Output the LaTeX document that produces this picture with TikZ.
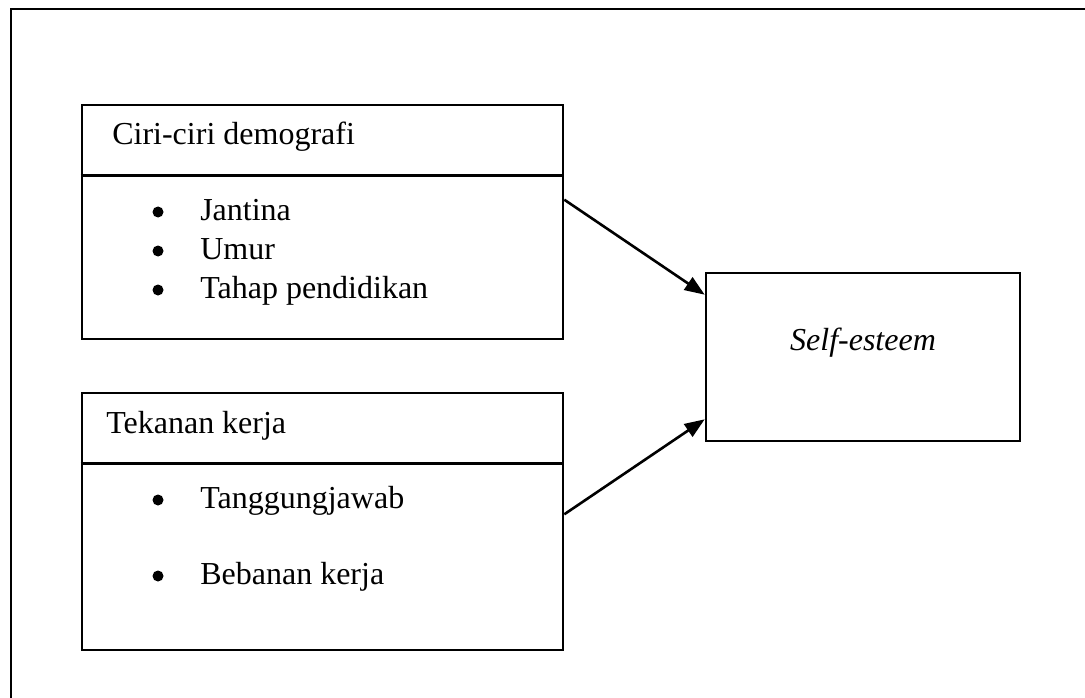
\documentclass[tikz,border=0pt]{standalone}
\usepackage{fontspec}
\setmainfont{Liberation Serif}
\usetikzlibrary{arrows.meta}

\begin{document}
\begin{tikzpicture}[x=1pt,y=-1pt,line width=2.6pt,>={Triangle[length=20pt,width=15pt]},
    font=\fontsize{32}{38}\selectfont,
    box/.style={draw,inner sep=0pt},
    txt/.style={anchor=base west,inner sep=0pt}]
            \useasboundingbox (0,0) rectangle (1085,698);
            % draw the outer frame
            \draw (11,698) -- (11,9) -- (1085,9);
            % draw the boxes
            \node[box,minimum width=481pt,minimum height=234pt] (demo) at (322.5,222) {};
            \node[box,minimum width=481pt,minimum height=257pt] (work) at (322.5,521.5) {};
            \node[box,minimum width=314pt,minimum height=168pt] (self) at (863,357) {};
            \draw ([yshift=-72pt]demo.north west) -- ([yshift=-72pt]demo.north east);
            \draw ([yshift=-72pt]work.north west) -- ([yshift=-72pt]work.north east);
            % titles and items
            \node[txt] (demotitle) at (111,145) {Ciri-ciri demografi};
            \foreach \y/\t/\n in {220/Jantina/a,259/Umur/b,298/Tahap pendidikan/c} {
                \fill (158,\y-8) circle (5.5pt);
                \node[txt] (demo\n) at (199,\y) {\t};
            }
            \node[txt] (worktitle) at (105,433) {Tekanan kerja};
            \foreach \y/\t/\n in {508/Tanggungjawab/a,584/Bebanan kerja/b} {
                \fill (158,\y-8) circle (5.5pt);
                \node[txt] (work\n) at (199,\y) {\t};
            }
            \node[anchor=base,inner sep=0pt] (selftext) at (863,350) {\textit{Self-esteem}};
            % draw the arrows
            \draw[->] ([yshift=-96pt]demo.north east) -- ([yshift=-23pt]self.north west);
            \draw[->] ([yshift=137pt]work.south east) -- ([yshift=23pt]self.south west);
        \end{tikzpicture}
\end{document}
